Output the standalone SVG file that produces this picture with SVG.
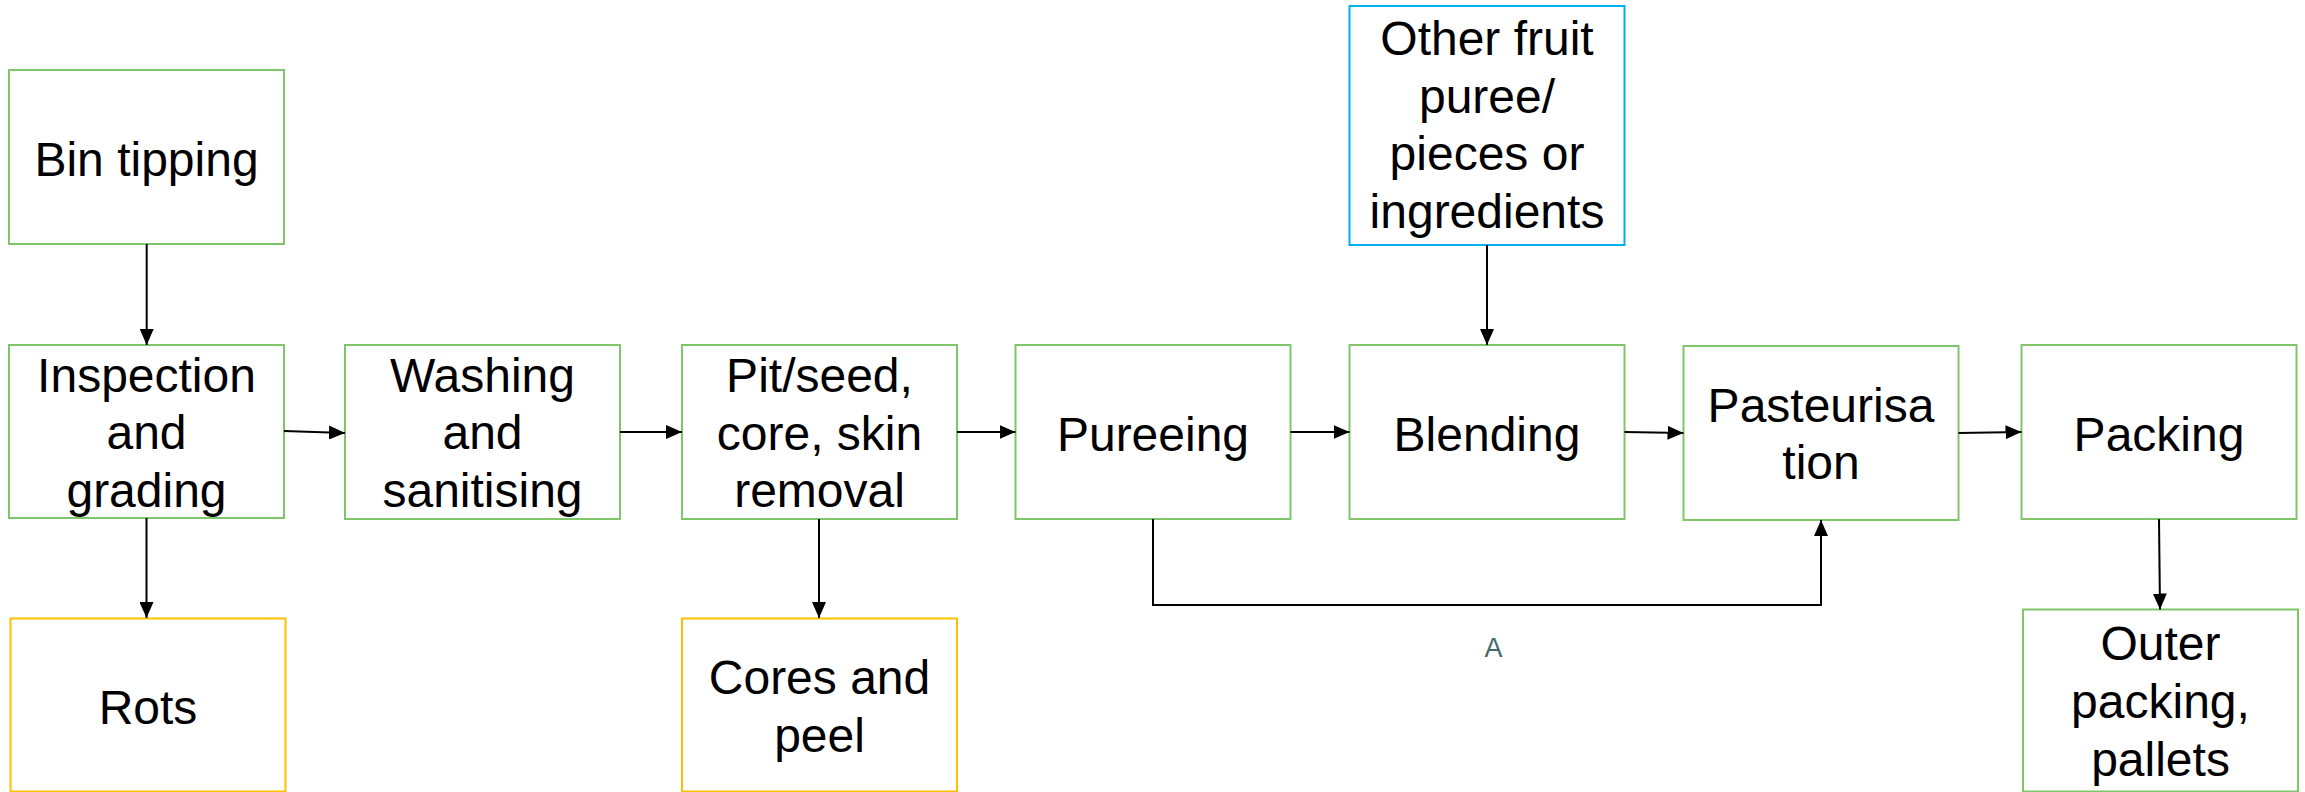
<svg xmlns="http://www.w3.org/2000/svg" width="2305" height="792" viewBox="0 0 2305 792">
  <style>
    .box { fill: #ffffff; stroke-width: 2; }
    .step { stroke: #7fc66b; }
    .waste { stroke: #ffc000; }
    .input { stroke: #00b0f0; }
    .lbl { font-family: "Liberation Sans", Arial, sans-serif; font-size: 48px; fill: #000000; text-anchor: middle; }
    .conn { fill: none; stroke: #000000; stroke-width: 2; marker-end: url(#arrow); }
    .tag { font-family: "Liberation Sans", Arial, sans-serif; font-size: 27px; fill: #416b68; text-anchor: middle; }
  </style>
  <defs>
    <marker id="arrow" viewBox="0 0 16 14" refX="16" refY="7" markerWidth="16" markerHeight="14" markerUnits="userSpaceOnUse" orient="auto">
      <path d="M0,0 L16,7 L0,14 Z" fill="#000000"/>
    </marker>
  </defs>
  <rect width="2305" height="792" fill="#ffffff"/>

  <!-- process steps -->
  <g id="bin-tipping">
    <rect class="box step" x="9" y="70" width="275" height="174"/>
    <text class="lbl" x="146.5" y="176">Bin tipping</text>
  </g>
  <g id="inspection">
    <rect class="box step" x="9" y="345" width="275" height="173"/>
    <text class="lbl" x="146.5" y="391.5">Inspection</text>
    <text class="lbl" x="146.5" y="449">and</text>
    <text class="lbl" x="146.5" y="506.5">grading</text>
  </g>
  <g id="washing">
    <rect class="box step" x="345" y="345" width="275" height="174"/>
    <text class="lbl" x="482.5" y="391.5">Washing</text>
    <text class="lbl" x="482.5" y="449">and</text>
    <text class="lbl" x="482.5" y="506.5">sanitising</text>
  </g>
  <g id="pit-removal">
    <rect class="box step" x="682" y="345" width="275" height="174"/>
    <text class="lbl" x="819.5" y="391.5">Pit/seed,</text>
    <text class="lbl" x="819.5" y="449.5">core, skin</text>
    <text class="lbl" x="819.5" y="507">removal</text>
  </g>
  <g id="pureeing">
    <rect class="box step" x="1015.5" y="345" width="275" height="174"/>
    <text class="lbl" x="1153" y="451">Pureeing</text>
  </g>
  <g id="blending">
    <rect class="box step" x="1349.5" y="345" width="275" height="174"/>
    <text class="lbl" x="1487" y="451">Blending</text>
  </g>
  <g id="pasteurisation">
    <rect class="box step" x="1683.5" y="346" width="275" height="174"/>
    <text class="lbl" x="1821" y="421.5">Pasteurisa</text>
    <text class="lbl" x="1821" y="479">tion</text>
  </g>
  <g id="packing">
    <rect class="box step" x="2021.5" y="345" width="275" height="174"/>
    <text class="lbl" x="2159" y="451">Packing</text>
  </g>

  <!-- added ingredients -->
  <g id="other-fruit">
    <rect class="box input" x="1349.5" y="6" width="275" height="239"/>
    <text class="lbl" x="1487" y="55">Other fruit</text>
    <text class="lbl" x="1487" y="112.5">puree/</text>
    <text class="lbl" x="1487" y="170">pieces or</text>
    <text class="lbl" x="1487" y="227.5">ingredients</text>
  </g>

  <!-- by-products and outputs -->
  <g id="rots">
    <rect class="box waste" x="10.5" y="618.5" width="275" height="173"/>
    <text class="lbl" x="148" y="724">Rots</text>
  </g>
  <g id="cores-peel">
    <rect class="box waste" x="682" y="618.5" width="275" height="173"/>
    <text class="lbl" x="819.5" y="693.5">Cores and</text>
    <text class="lbl" x="819.5" y="751.5">peel</text>
  </g>
  <g id="outer-packing">
    <rect class="box step" x="2023" y="609.5" width="275" height="182"/>
    <text class="lbl" x="2160.5" y="660">Outer</text>
    <text class="lbl" x="2160.5" y="718">packing,</text>
    <text class="lbl" x="2160.5" y="776">pallets</text>
  </g>

  <!-- flow connectors -->
  <g id="connectors">
    <path class="conn" d="M146.7,244 L146.7,345"/>
    <path class="conn" d="M146.5,518 L146.5,618"/>
    <path class="conn" d="M284,431 L345,433"/>
    <path class="conn" d="M620,432 L682,432"/>
    <path class="conn" d="M957,432 L1015.5,432"/>
    <path class="conn" d="M819,519 L819,618"/>
    <path class="conn" d="M1290.5,432 L1349.5,432"/>
    <path class="conn" d="M1487,245 L1487,345"/>
    <path class="conn" d="M1624.5,432 L1683.5,433"/>
    <path class="conn" d="M1958.5,433 L2021.5,432"/>
    <path class="conn" d="M2159,519 L2160,609.5"/>
    <path class="conn" d="M1153,519 L1153,605 L1821,605 L1821,520"/>
    <text class="tag" x="1493.5" y="657">A</text>
  </g>
</svg>
